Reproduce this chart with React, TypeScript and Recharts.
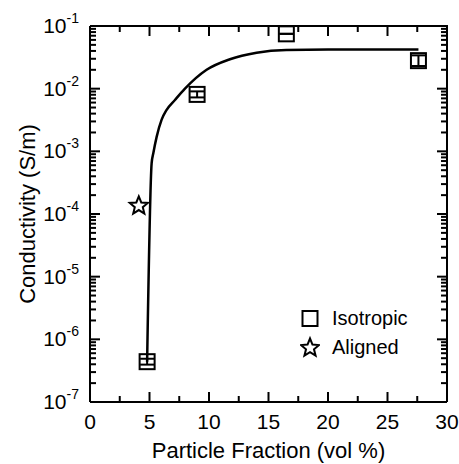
import React from 'react';
import { ScatterChart, Scatter, XAxis, YAxis, ErrorBar, Legend } from 'recharts';

// isotropic samples (vol %, S/m) with small y error bars [low, high]
const isoX = [4.8, 9.0, 16.5, 27.6];
const isoY = [4.4e-7, 8.1e-3, 0.075, 0.028];
const isoErr = [
  [0.45e-7, 0.5e-7],
  [0.85e-3, 0.95e-3],
  [0, 0],
  [0.005, 0.006],
];

// aligned sample
const alignedX = [4.1];
const alignedY = [1.35e-4];

// percolation fit
const fitX = [4.8, 5.18, 5.32, 5.6, 6.02, 6.44, 7.14, 7.98, 9.8, 11.76, 14.0, 16.5, 20.0, 27.6];
const fitY = [4.4e-7, 6.5e-4, 9.3e-4, 1.7e-3, 3.2e-3, 4.6e-3, 6.6e-3, 1.0e-2, 0.02, 0.0295, 0.0375, 0.0414, 0.042, 0.042];

const X_DOMAIN = [0, 30];
const X_TICKS = [0, 2.5, 5, 7.5, 10, 12.5, 15, 17.5, 20, 22.5, 25, 27.5, 30];
const Y_DOMAIN = [1e-7, 1e-1];
const Y_DECADES = [1e-7, 1e-6, 1e-5, 1e-4, 1e-3, 1e-2, 1e-1];
const Y_EXPONENTS = ['-7', '-6', '-5', '-4', '-3', '-2', '-1'];
const MINOR_STEPS = [2, 3, 4, 5, 6, 7, 8, 9];
const Y_TICKS = [
  ...Y_DECADES,
  ...Y_DECADES.slice(0, -1).flatMap(d => MINOR_STEPS.map(k => k * d)),
].sort((a, b) => a - b);

const isoData = isoX.map((x, i) => ({ x, y: isoY[i], err: isoErr[i] }));
const alignedData = alignedX.map((x, i) => ({ x, y: alignedY[i] }));
const fitData = fitX.map((x, i) => ({ x, y: fitY[i] }));

// anchors for the inward tick marks and the top/right frame
const bottomTicks = X_TICKS.map(x => ({ x, y: Y_DOMAIN[0] }));
const topTicks = X_TICKS.map(x => ({ x, y: Y_DOMAIN[1] }));
const leftTicks = Y_TICKS.map(y => ({ x: X_DOMAIN[0], y }));
const rightTicks = Y_TICKS.map(y => ({ x: X_DOMAIN[1], y }));
const frame = [
  { x: X_DOMAIN[0], y: Y_DOMAIN[1] },
  { x: X_DOMAIN[1], y: Y_DOMAIN[1] },
  { x: X_DOMAIN[1], y: Y_DOMAIN[0] },
];

const FONT = '"Liberation Sans", Arial, Helvetica, sans-serif';
const MAJOR = 10;
const MINOR = 6;

const isDecade = (v: number) => {
  const l = Math.log10(v);
  return Math.abs(l - Math.round(l)) < 1e-6;
};
const isMajorX = (v: number) => v % 5 === 0;

function starPoints(cx: number, cy: number, R: number, r: number) {
  const pts: string[] = [];
  for (let i = 0; i < 10; i++) {
    const rad = i % 2 === 0 ? R : r;
    const a = -Math.PI / 2 + (i * Math.PI) / 5;
    pts.push(`${cx + rad * Math.cos(a)},${cy + rad * Math.sin(a)}`);
  }
  return pts.join(' ');
}

const SquareShape = (props: any) => {
  const { cx, cy } = props;
  if (cx == null || cy == null) return <g />;
  return <rect x={cx - 7.5} y={cy - 7.5} width={15} height={15} fill="none" stroke="#000" strokeWidth={2} />;
};

const StarShape = (props: any) => {
  const { cx, cy } = props;
  if (cx == null || cy == null) return <g />;
  return <polygon points={starPoints(cx, cy, 9.5, 4.2)} fill="#fff" stroke="#000" strokeWidth={2} />;
};

const NoShape = () => <g />;

// tick mark shapes: dir says which way is "into" the plot
const makeXTick = (dir: 1 | -1) => (props: any) => {
  const { cx, cy, payload } = props;
  if (cx == null || cy == null) return <g />;
  const len = isMajorX(payload?.x) ? MAJOR : MINOR;
  return <line x1={cx} y1={cy} x2={cx} y2={cy + dir * len} stroke="#000" strokeWidth={2} />;
};
const makeYTick = (dir: 1 | -1) => (props: any) => {
  const { cx, cy, payload } = props;
  if (cx == null || cy == null) return <g />;
  const len = isDecade(payload?.y) ? MAJOR : MINOR;
  return <line x1={cx} y1={cy} x2={cx + dir * len} y2={cy} stroke="#000" strokeWidth={2} />;
};
const BottomMark = makeXTick(-1);
const TopMark = makeXTick(1);
const LeftMark = makeYTick(1);
const RightMark = makeYTick(-1);

// axis labels
const BottomTick = (props: any) => {
  const { x, y, payload } = props;
  const v = payload.value;
  if (!isMajorX(v)) return <g />;
  return (
    <text x={x} y={y + 27} textAnchor="middle" fontSize={21} fontFamily={FONT} fill="#000">
      {v}
    </text>
  );
};

const LeftTick = (props: any) => {
  const { x, y, payload } = props;
  const v = payload.value;
  const idx = Y_DECADES.findIndex(d => Math.abs(Math.log10(d) - Math.log10(v)) < 1e-6);
  if (idx < 0) return <g />;
  return (
    <text x={x - 11} y={y + 7} textAnchor="end" fontFamily={FONT} fill="#000">
      <tspan fontSize={21}>10</tspan>
      <tspan fontSize={14} dy={-10}>{Y_EXPONENTS[idx]}</tspan>
    </text>
  );
};

function LegendBox() {
  const row: React.CSSProperties = { display: 'flex', alignItems: 'center', height: 29 };
  return (
    <div style={{ fontFamily: FONT, fontSize: 20, color: '#000' }}>
      <div style={row}>
        <svg width={20} height={29} style={{ marginRight: 12 }}>
          <rect x={2.5} y={7} width={15} height={15} fill="none" stroke="#000" strokeWidth={2} />
        </svg>
        <span>Isotropic</span>
      </div>
      <div style={row}>
        <svg width={20} height={29} style={{ marginRight: 12 }}>
          <polygon points={starPoints(10, 15, 9.5, 4.2)} fill="#fff" stroke="#000" strokeWidth={2} />
        </svg>
        <span>Aligned</span>
      </div>
    </div>
  );
}

const common = { xAxisId: 'bottom', yAxisId: 'left', isAnimationActive: false, legendType: 'none' as const };

export default function App() {
  return (
    <div style={{ position: 'absolute', left: 0, top: 0, width: 459, height: 464, background: '#fff' }}>
      <ScatterChart width={459} height={464} margin={{ top: 26, right: 12, bottom: 0, left: 0 }}>
        <XAxis
          xAxisId="bottom"
          dataKey="x"
          type="number"
          domain={X_DOMAIN}
          ticks={X_TICKS}
          interval={0}
          height={62}
          tickSize={0}
          tickMargin={0}
          tickLine={false}
          axisLine={{ stroke: '#000', strokeWidth: 2 }}
          tick={<BottomTick />}
          label={{ value: 'Particle Fraction (vol %)', position: 'insideBottom', offset: 6, fontSize: 22, fontFamily: FONT, fill: '#000' }}
        />
        <YAxis
          yAxisId="left"
          dataKey="y"
          type="number"
          scale="log"
          domain={Y_DOMAIN}
          ticks={Y_TICKS}
          interval={0}
          width={90}
          tickSize={0}
          tickMargin={0}
          tickLine={false}
          axisLine={{ stroke: '#000', strokeWidth: 2 }}
          tick={<LeftTick />}
          label={{ value: 'Conductivity (S/m)', angle: -90, position: 'insideLeft', offset: 27, style: { textAnchor: 'middle' }, fontSize: 22, fontFamily: FONT, fill: '#000' }}
        />
        <Scatter name="frame" data={frame} {...common} line={{ stroke: '#000', strokeWidth: 2 }} lineJointType="linear" shape={<NoShape />} />
        <Scatter name="bottomTicks" data={bottomTicks} {...common} shape={<BottomMark />} />
        <Scatter name="topTicks" data={topTicks} {...common} shape={<TopMark />} />
        <Scatter name="leftTicks" data={leftTicks} {...common} shape={<LeftMark />} />
        <Scatter name="rightTicks" data={rightTicks} {...common} shape={<RightMark />} />
        <Scatter
          name="fit"
          data={fitData}
          {...common}
          line={{ stroke: '#000', strokeWidth: 2.5 }}
          lineJointType="monotoneX"
          shape={<NoShape />}
        />
        <Scatter
          name="Isotropic"
          data={isoData}
          xAxisId="bottom"
          yAxisId="left"
          shape={<SquareShape />}
          isAnimationActive={false}
        >
          <ErrorBar dataKey="err" direction="y" width={7} stroke="#000" strokeWidth={2} isAnimationActive={false} />
        </Scatter>
        <Scatter
          name="Aligned"
          data={alignedData}
          xAxisId="bottom"
          yAxisId="left"
          shape={<StarShape />}
          isAnimationActive={false}
        />
        <Legend
          layout="horizontal"
          verticalAlign="middle"
          align="center"
          content={() => <LegendBox />}
          wrapperStyle={{ left: 300, top: 304, width: 140 }}
        />
      </ScatterChart>
    </div>
  );
}
